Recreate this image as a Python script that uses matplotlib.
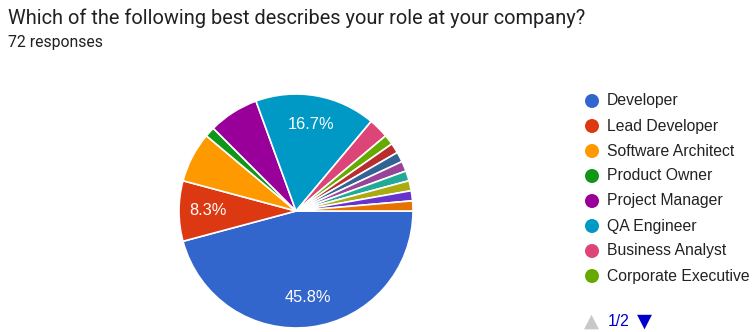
import matplotlib
matplotlib.use("Agg")
import matplotlib.pyplot as plt

W, H = 752, 332

categories = ["Developer", "Lead Developer", "Software Architect", "Product Owner",
              "Project Manager", "QA Engineer", "Business Analyst", "Corporate Executive",
              "Other role 1", "Other role 2", "Other role 3", "Other role 4",
              "Other role 5", "Other role 6", "Other role 7"]
counts = [33, 6, 5, 1, 5, 12, 2, 1, 1, 1, 1, 1, 1, 1, 1]
colors = ["#3366cc", "#dc3912", "#ff9900", "#109618", "#990099", "#0099c6",
          "#dd4477", "#66aa00", "#b82e2e", "#316395", "#994499", "#22aa99",
          "#aaaa11", "#6633cc", "#e67300"]
legend_shown = 8
title = "Which of the following best describes your role at your company?"
subtitle = "72 responses"
pager = "1/2"

fig = plt.figure(figsize=(W / 100, H / 100), dpi=100)
fig.patch.set_facecolor("white")

def fx(x):
    return x / W

def fy(y):
    return 1 - y / H

# pie
cx, cy, r = 296, 211, 117
ax = fig.add_axes([fx(cx - r), fy(cy + r), 2 * r / W, 2 * r / H])

def fmt(p):
    return f"{p:.1f}%" if p >= 8 else ""

wedges, texts, autotexts = ax.pie(
    counts, colors=colors, startangle=0, counterclock=False, radius=1,
    autopct=fmt, pctdistance=0.75,
    wedgeprops=dict(edgecolor="white", linewidth=1.2),
    textprops=dict(color="white", fontsize=11.8, family=["Liberation Sans", "DejaVu Sans"]))
ax.set_xlim(-1, 1)
ax.set_ylim(-1, 1)
ax.set_aspect("auto")
ax.axis("off")
for w in wedges:
    w.set_clip_on(False)

fig.text(fx(8), fy(18), title, fontsize=14.4, color="#202124",
         family=["Roboto", "DejaVu Sans"], va="center", ha="left")
fig.text(fx(8), fy(43), subtitle, fontsize=11.3, color="#202124",
         family=["Roboto", "DejaVu Sans"], va="center", ha="left")

# legend
for i in range(legend_shown):
    y = 101 + 25 * i
    fig.patches.append(matplotlib.patches.Ellipse((fx(592), fy(y)), 14 / W, 14 / H,
                       transform=fig.transFigure, facecolor=colors[i], edgecolor="none"))
    fig.text(fx(607), fy(y), categories[i], fontsize=11.3, color="#222222",
             family=["Liberation Sans", "DejaVu Sans"], va="center", ha="left")

fig.text(fx(591), fy(321), "\u25B2", fontsize=14, color="#c8c8c8", va="center", ha="center",
         family=["DejaVu Sans"])
fig.text(fx(608), fy(322), pager, fontsize=11.3, color="#0000cc", va="center", ha="left",
         family=["Liberation Sans", "DejaVu Sans"])
fig.text(fx(644), fy(321), "\u25BC", fontsize=14, color="#0000cc", va="center", ha="center",
         family=["DejaVu Sans"])

fig.savefig("out.png", dpi=100)
